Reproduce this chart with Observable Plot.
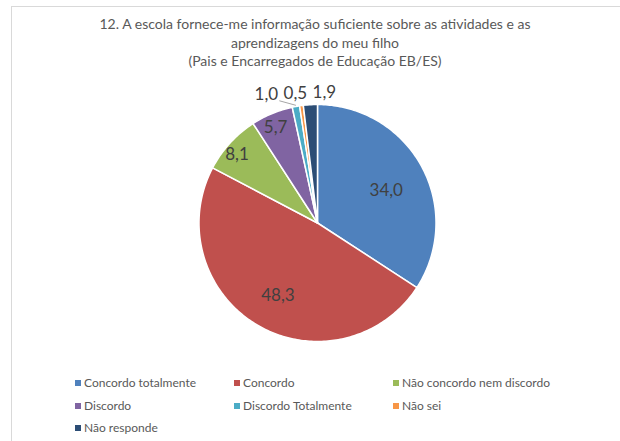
<!DOCTYPE html>
<html><head><meta charset="utf-8">
<script src="https://cdn.jsdelivr.net/npm/d3@7"></script>
<script src="https://cdn.jsdelivr.net/npm/@observablehq/plot@0.6"></script>
<style>
html,body{margin:0;padding:0;background:#fff;}
body{width:620px;height:441px;overflow:hidden;position:relative;font-family:Lato,"Noto Sans",sans-serif;}
#frame{position:absolute;left:11px;top:6px;width:800px;height:600px;border:1px solid #d9d9d9;box-sizing:border-box;}
#chart{position:absolute;left:0;top:0;}
#title{position:absolute;left:0;width:630px;top:15px;text-align:center;font-size:14px;line-height:18.5px;color:#595959;}
.leg{position:absolute;font-size:12px;color:#595959;white-space:nowrap;line-height:14px;}
.leg span.sw{display:inline-block;width:6px;height:6px;margin-right:3px;vertical-align:1px;}
</style></head>
<body>
<div id="frame"></div>
<div id="chart"></div>
<div id="title">12. A escola fornece-me informação suficiente sobre as atividades e as<br>aprendizagens do meu filho<br>(Pais e Encarregados de Educação EB/ES)</div>
<div id="legend"></div>
<script>
const categories = ["Concordo totalmente","Concordo","Não concordo nem discordo","Discordo","Discordo Totalmente","Não sei","Não responde"];
const values = [34.0, 48.3, 8.1, 5.7, 1.0, 0.5, 1.9];
const colors = ["#4F81BD","#C0504D","#9BBB59","#8064A2","#4BACC6","#F79646","#2C4D75"];

const total = d3.sum(values);
const R = 118.5; // pixel radius
const slices = [];
let acc = 0;
values.forEach((v, i) => {
  const a0 = acc / total * 2 * Math.PI;
  acc += v;
  const a1 = acc / total * 2 * Math.PI;
  slices.push({cat: categories[i], v, a0, a1, mid: (a0 + a1) / 2, label: v.toFixed(1).replace(".", ",")});
});
const poly = [];
for (const s of slices) {
  poly.push({cat: s.cat, x: 0, y: 0});
  const n = Math.max(2, Math.ceil((s.a1 - s.a0) / (Math.PI / 180)));
  for (let k = 0; k <= n; k++) {
    const a = s.a0 + (s.a1 - s.a0) * k / n;
    poly.push({cat: s.cat, x: Math.sin(a), y: Math.cos(a)});
  }
}
const inner = [], outer = [];
for (const s of slices) {
  const pct = s.v / total * 100;
  if (pct >= 2) {
    const f = pct >= 20 ? 0.66 : 0.92;
    inner.push({text: s.label, x: f * Math.sin(s.mid), y: f * Math.cos(s.mid) - 0.04});
  } else {
    outer.push({s, text: s.label, x: 1.12 * Math.sin(s.mid), y: 1.1 * Math.cos(s.mid)});
  }
}
outer.sort((a, b) => a.x - b.x);
const gap = 29 / R;
for (let it = 0; it < 60; it++) {
  for (let i = 0; i < outer.length - 1; i++) {
    const d = gap - (outer[i + 1].x - outer[i].x);
    if (d > 0) { outer[i].x -= d * 0.6; outer[i + 1].x += d * 0.4; }
  }
}
const hw = 13 / R;
const leaders = [];
for (const o of outer) {
  const sx0 = Math.min(Math.sin(o.s.a0), Math.sin(o.s.a1)), sx1 = Math.max(Math.sin(o.s.a0), Math.sin(o.s.a1));
  if (o.x + hw < sx0) leaders.push({x1: o.x + hw, y1: o.y - 0.05, x2: Math.sin(o.s.mid), y2: Math.cos(o.s.mid) * 1.01});
  else if (o.x - hw > sx1) leaders.push({x1: o.x - hw, y1: o.y - 0.05, x2: Math.sin(o.s.mid), y2: Math.cos(o.s.mid) * 1.01});
}
const labelsAll = inner.concat(outer.map(o => ({text: o.text, x: o.x, y: o.y})));

const cx = 317, cy = 222.5, W = 620, H = 441;
const plot = Plot.plot({
  width: W, height: H,
  marginLeft: cx - R, marginRight: W - cx - R, marginTop: cy - R, marginBottom: H - cy - R,
  x: {domain: [-1, 1], axis: null},
  y: {domain: [-1, 1], axis: null},
  color: {domain: categories, range: colors},
  style: {fontFamily: "Lato, 'Noto Sans', sans-serif", background: "transparent", overflow: "visible"},
  marks: [
    Plot.line(poly, {x: "x", y: "y", z: "cat", fill: "cat", stroke: "white", strokeWidth: 1.5, strokeLinejoin: "round", curve: "linear-closed"}),
    Plot.link(leaders, {x1: "x1", y1: "y1", x2: "x2", y2: "y2", stroke: "#a6a6a6", strokeWidth: 1}),
    Plot.text(labelsAll, {x: "x", y: "y", text: "text", fontSize: 17, fill: "#404040"})
  ]
});
document.getElementById("chart").appendChild(plot);

const leg = document.getElementById("legend");
const colX = [75, 234, 393], rowY = [376, 399, 421];
categories.forEach((c, i) => {
  const d = document.createElement("div");
  d.className = "leg";
  d.style.left = colX[i % 3] + "px";
  d.style.top = rowY[Math.floor(i / 3)] + "px";
  d.innerHTML = `<span class="sw" style="background:${colors[i]}"></span>${c}`;
  leg.appendChild(d);
});
</script>
</body></html>
